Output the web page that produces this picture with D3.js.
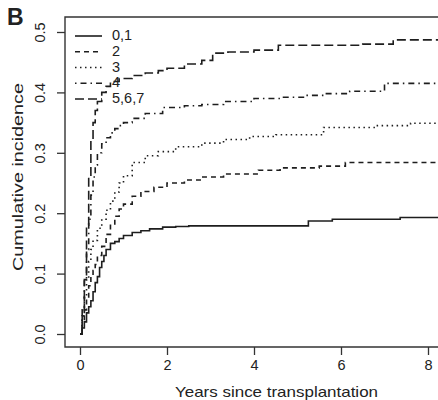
<!DOCTYPE html>
<html><head><meta charset="utf-8">
<script src="https://cdn.jsdelivr.net/npm/d3@7"></script>
<style>html,body{margin:0;padding:0;background:#fff;}svg{display:block;}</style>
</head><body>
<svg id="c" width="438" height="400"></svg>
<script>
// ---- data ----
const seriesNames = ["0,1", "2", "3", "4", "5,6,7"];
const xTicks = [0, 2, 4, 6, 8];
const yTicks = [0.0, 0.1, 0.2, 0.3, 0.4, 0.5];
const yTickLabels = ["0.0", "0.1", "0.2", "0.3", "0.4", "0.5"];

const t01 = [0,0.05,0.1,0.15,0.2,0.25,0.3,0.35,0.4,0.45,0.5,0.55,0.6,0.7,0.8,0.9,1.0,1.2,1.4,1.6,1.9,2.2,2.5,5.25,5.8,7.36,8.4];
const v01 = [0,0.01,0.02,0.035,0.045,0.055,0.07,0.085,0.095,0.11,0.12,0.13,0.14,0.15,0.153,0.158,0.163,0.168,0.171,0.174,0.177,0.178,0.179,0.187,0.19,0.193,0.193];

const t2 = [0,0.05,0.1,0.15,0.2,0.25,0.3,0.35,0.4,0.5,0.6,0.7,0.8,0.9,1.0,1.2,1.4,1.7,2.0,2.4,2.8,3.3,4.1,4.6,5.5,6.1,8.4];
const v2 = [0,0.02,0.04,0.06,0.08,0.095,0.105,0.115,0.13,0.145,0.165,0.18,0.195,0.207,0.215,0.228,0.236,0.243,0.25,0.255,0.26,0.265,0.271,0.275,0.278,0.284,0.286];

const t3 = [0,0.05,0.1,0.15,0.2,0.25,0.3,0.4,0.5,0.6,0.7,0.8,0.9,1.0,1.2,1.5,1.8,2.2,2.8,3.3,3.9,4.5,5.6,6.8,7.6,8.4];
const v3 = [0,0.03,0.06,0.09,0.12,0.14,0.155,0.175,0.19,0.205,0.22,0.235,0.25,0.262,0.284,0.295,0.302,0.31,0.316,0.322,0.327,0.33,0.342,0.345,0.349,0.349];

const t4 = [0,0.05,0.1,0.15,0.2,0.25,0.3,0.35,0.4,0.5,0.6,0.7,0.8,0.9,1.0,1.2,1.5,1.9,2.4,2.8,3.3,4.0,4.6,5.2,5.6,6.2,7.0,8.4];
const v4 = [0,0.04,0.09,0.14,0.19,0.23,0.26,0.28,0.3,0.315,0.325,0.333,0.34,0.345,0.35,0.357,0.365,0.375,0.378,0.38,0.385,0.39,0.392,0.395,0.398,0.402,0.415,0.415];

const t567 = [0,0.05,0.1,0.15,0.2,0.25,0.3,0.35,0.4,0.5,0.6,0.7,0.9,1.2,1.5,1.8,2.0,2.4,2.8,3.05,3.4,4.0,4.56,5.5,6.5,7.2,8.4];
const v567 = [0,0.03,0.09,0.18,0.26,0.32,0.35,0.37,0.385,0.4,0.41,0.418,0.423,0.428,0.432,0.436,0.44,0.447,0.453,0.465,0.467,0.47,0.478,0.478,0.48,0.487,0.49];

const seriesTimes = [t01, t2, t3, t4, t567];
const seriesValues = [v01, v2, v3, v4, v567];
const dashes = [null, "5,4", "1.5,3.5", "1.5,4,6,4", "9,4"];

// ---- drawing ----
const svg = d3.select("#c");
const font = "'Liberation Sans', Arial, Helvetica, sans-serif";
const ink = "#1e1e1e";

const x = d3.scaleLinear().domain([0, 8]).range([80, 428]);
const y = d3.scaleLinear().domain([0, 0.5]).range([334, 32]);

const boxL = 65, boxT = 17, boxB = 347, boxR = 460;

// plot box (extends past right edge)
svg.append("path")
  .attr("d", `M${boxR},${boxT}H${boxL}V${boxB}H${boxR}`)
  .attr("fill", "none").attr("stroke", "#333").attr("stroke-width", 1.4);

// x axis
const xAxis = svg.append("g").attr("transform", `translate(0,${boxB})`)
  .call(d3.axisBottom(x).tickValues(xTicks).tickSize(8).tickPadding(5).tickFormat(d3.format("d")));
xAxis.select(".domain").remove();
xAxis.selectAll("line").attr("stroke", "#333").attr("stroke-width", 1.3);
xAxis.selectAll("text").attr("font-family", font).attr("font-size", 14.5).attr("fill", "#222");

// y axis
const yAxis = svg.append("g").attr("transform", `translate(${boxL},0)`)
  .call(d3.axisLeft(y).tickValues(yTicks).tickSize(8).tickFormat((d, i) => yTickLabels[i]));
yAxis.select(".domain").remove();
yAxis.selectAll("line").attr("stroke", "#333").attr("stroke-width", 1.3);
yAxis.selectAll("text")
  .attr("font-family", font).attr("font-size", 14.5).attr("fill", "#222")
  .attr("text-anchor", "middle").attr("dy", null).attr("x", null)
  .attr("transform", d => `translate(-20,${0}) rotate(-90)`);

// axis titles
svg.append("text").attr("x", 276.5).attr("y", 397)
  .attr("text-anchor", "middle").attr("font-family", font).attr("font-size", 14.5).attr("fill", "#222")
  .attr("textLength", 203).attr("lengthAdjust", "spacingAndGlyphs")
  .text("Years since transplantation");

svg.append("text").attr("transform", "translate(23,177) rotate(-90)")
  .attr("text-anchor", "middle").attr("font-family", font).attr("font-size", 14.5).attr("fill", "#222")
  .attr("textLength", 188).attr("lengthAdjust", "spacingAndGlyphs")
  .text("Cumulative incidence");

// panel letter
svg.append("text").attr("x", 7).attr("y", 25)
  .attr("font-family", font).attr("font-weight", "bold").attr("font-size", 23).attr("fill", "#222")
  .text("B");

// curves
svg.append("clipPath").attr("id", "clip").append("rect")
  .attr("x", boxL).attr("y", boxT).attr("width", boxR - boxL).attr("height", boxB - boxT);

const line = d3.line().x(d => x(d[0])).y(d => y(d[1])).curve(d3.curveStepAfter);
const g = svg.append("g").attr("clip-path", "url(#clip)");
seriesNames.forEach((name, i) => {
  const pts = seriesTimes[i].map((t, k) => [t, seriesValues[i][k]]);
  g.append("path").datum(pts)
    .attr("d", line)
    .attr("fill", "none").attr("stroke", ink).attr("stroke-width", 1.6)
    .attr("stroke-dasharray", dashes[i]);
});

// legend
const leg = svg.append("g");
seriesNames.forEach((name, i) => {
  const by = 40 + i * 15.75;
  leg.append("line").attr("x1", 75).attr("x2", 102).attr("y1", by - 4).attr("y2", by - 4)
    .attr("stroke", ink).attr("stroke-width", 1.6).attr("stroke-dasharray", dashes[i]);
  leg.append("text").attr("x", 112).attr("y", by)
    .attr("font-family", font).attr("font-size", 14.5).attr("fill", "#222")
    .text(name);
});
</script>
</body></html>
